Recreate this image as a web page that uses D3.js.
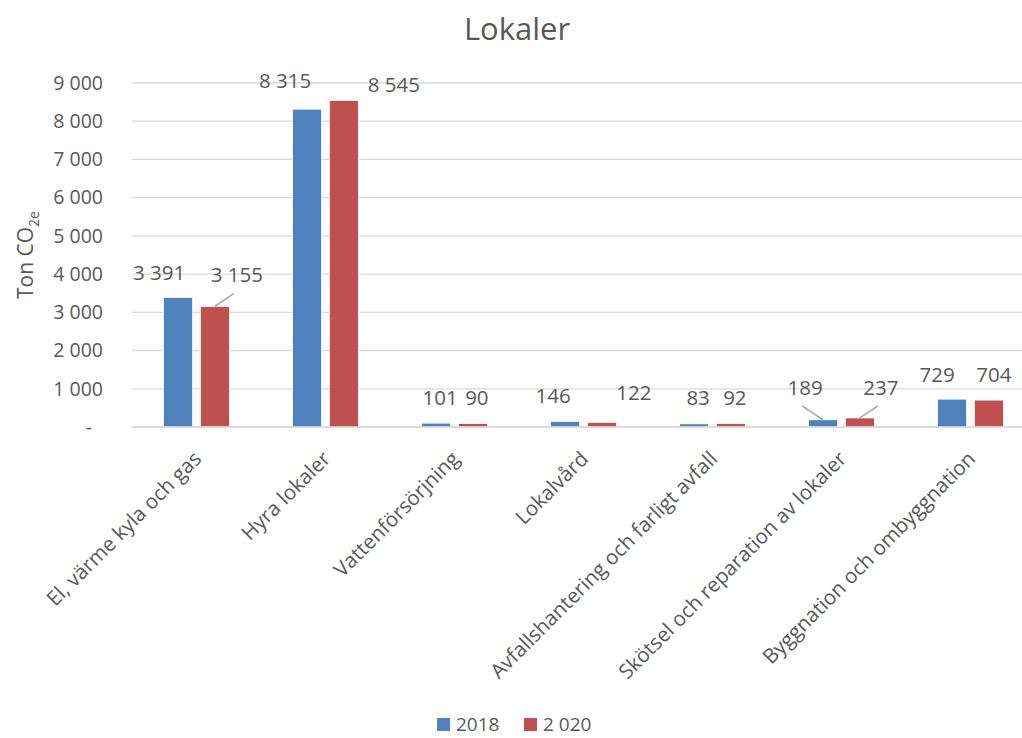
<!DOCTYPE html>
<html>
<head>
<meta charset="utf-8">
<script src="https://cdn.jsdelivr.net/npm/d3@7"></script>
<style>
  body { margin: 0; background: #fff; }
  text { font-family: "Open Sans", sans-serif; fill: #595959; }
</style>
</head>
<body>
<svg id="chart" width="1022" height="738"></svg>
<script>
// chart data
const categories = ["El, värme kyla och gas", "Hyra lokaler", "Vattenförsörjning", "Lokalvård",
                    "Avfallshantering och farligt avfall", "Skötsel och reparation av lokaler",
                    "Byggnation och ombyggnation"];
const seriesNames = ["2018", "2 020"];
const values2018 = [3391, 8315, 101, 146, 83, 189, 729];
const values2020 = [3155, 8545, 90, 122, 92, 237, 704];
const yTicks = [0, 1000, 2000, 3000, 4000, 5000, 6000, 7000, 8000, 9000];

// label nudges (px) as Excel placed them, [dx, dy, leader]
const labelNudge2018 = [[-19, -17, 0], [-22, -21, 0], [4, -18, 0], [-12, -18, 0], [4, -19, 0], [-18, -25, 1], [-15, -17, 0]];
const labelNudge2020 = [[22, -24, 1], [50, -8, 0], [4, -19, 0], [32, -22, 0], [4, -18, 0], [21, -23, 1], [5, -18, 0]];

const colors = ["#4f81bd", "#c0504d"];
const svg = d3.select("#chart");
const margin = {left: 132, top: 83, right: -13, bottom: 311};
const W = 1022, H = 738;
const plotW = W - margin.left - margin.right, plotH = H - margin.top - margin.bottom;
const fmt = v => v === 0 ? "-" : d3.format(",")(v).replace(/,/g, " ");

const x0 = d3.scaleBand().domain(categories).range([margin.left, margin.left + plotW])
  .paddingInner(0.49).paddingOuter(0.245);
const x1 = d3.scaleBand().domain([0, 1]).range([0, x0.bandwidth()]).paddingInner(0.21);
const y = d3.scaleLinear().domain([0, 9000]).range([margin.top + plotH, margin.top]);

// gridlines
svg.append("g").selectAll("line").data(yTicks).join("line")
  .attr("x1", margin.left).attr("x2", margin.left + plotW)
  .attr("y1", d => y(d)).attr("y2", d => y(d))
  .attr("stroke", "#d9d9d9").attr("stroke-width", 1.3);

// y axis labels
const yAxis = svg.append("g").attr("transform", `translate(${margin.left - 29},0)`)
  .call(d3.axisLeft(y).tickValues(yTicks).tickFormat(fmt).tickSize(0).tickPadding(0));
yAxis.select(".domain").remove();
yAxis.selectAll("text").style("font-size", "19.5px").attr("fill", "#595959")
  .attr("dx", d => d === 0 ? -11 : 0);

// title
svg.append("text").attr("x", 517).attr("y", 40).attr("text-anchor", "middle")
  .style("font-size", "31px").text("Lokaler");

// y axis title
const yt = svg.append("text").attr("transform", "translate(33,255) rotate(-90)")
  .attr("text-anchor", "middle").style("font-size", "21px");
yt.append("tspan").text("Ton CO");
yt.append("tspan").attr("dy", 6).style("font-size", "14px").text("2e");

// bars
const series = [values2018, values2020];
const nudges = [labelNudge2018, labelNudge2020];
series.forEach((vals, s) => {
  const g = svg.append("g");
  g.selectAll("rect").data(vals).join("rect")
    .attr("x", (d, i) => x0(categories[i]) + x1(s))
    .attr("y", d => y(d))
    .attr("width", x1.bandwidth())
    .attr("height", d => y(0) - y(d))
    .attr("fill", colors[s])
    .attr("stroke", "#fff").attr("stroke-width", 0.8);

  const cx = i => x0(categories[i]) + x1(s) + x1.bandwidth() / 2;
  // leader lines
  g.selectAll("line").data(vals.map((v, i) => ({v, i})).filter(d => nudges[s][d.i][2]))
    .join("line")
    .attr("x1", d => cx(d.i)).attr("y1", d => y(d.v))
    .attr("x2", d => cx(d.i) + nudges[s][d.i][0] - 3)
    .attr("y2", d => y(d.v) + nudges[s][d.i][1] + 11)
    .attr("stroke", "#a6a6a6").attr("stroke-width", 1.5);
  // data labels
  g.selectAll("text").data(vals).join("text")
    .attr("x", (d, i) => cx(i) + nudges[s][i][0])
    .attr("y", (d, i) => y(d) + nudges[s][i][1])
    .attr("text-anchor", "middle").style("font-size", "20.5px")
    .attr("fill", "#404040")
    .text(fmt);
});

// x axis line
svg.append("line").attr("x1", margin.left).attr("x2", margin.left + plotW)
  .attr("y1", y(0)).attr("y2", y(0)).attr("stroke", "#d9d9d9").attr("stroke-width", 1.3);

// category labels
svg.append("g").selectAll("text").data(categories).join("text")
  .attr("transform", d => `translate(${x0(d) + x0.bandwidth() / 2 + 1},455) rotate(-45)`)
  .attr("text-anchor", "end").attr("dy", "0.35em").style("font-size", "20.5px")
  .text(d => d);

// legend
const legend = svg.append("g");
const legendX = [437, 524];
seriesNames.forEach((n, s) => {
  legend.append("rect").attr("x", legendX[s]).attr("y", 718).attr("width", 13).attr("height", 13)
    .attr("fill", colors[s]);
  legend.append("text").attr("x", legendX[s] + 19).attr("y", 731).style("font-size", "19px").text(n);
});
</script>
</body>
</html>
